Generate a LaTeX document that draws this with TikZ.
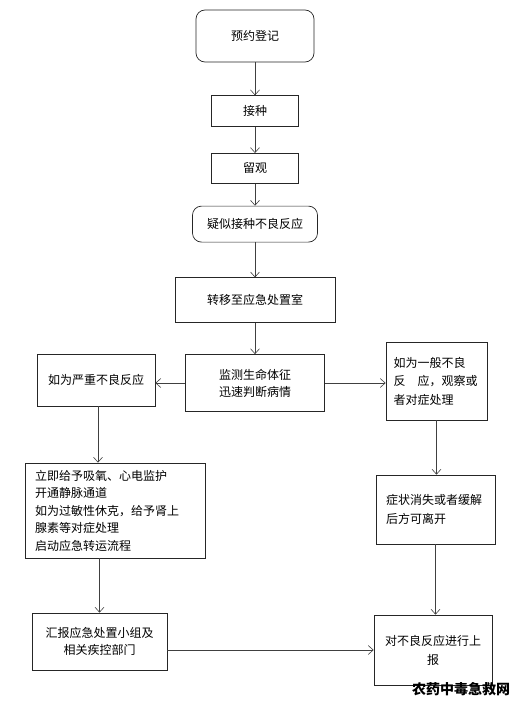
\documentclass[tikz,border=0pt]{standalone}
\usepackage{fontspec}
\newfontfamily\cjk{Noto Sans CJK SC}
\usetikzlibrary{arrows.meta, positioning}

\begin{document}
\begin{tikzpicture}[
    x=1pt, y=-1pt, >={Straight Barb[length=5pt, width=9pt]},
    box/.style={draw=black!85, line width=0.7pt, inner sep=0pt,
                font=\cjk\fontsize{12}{18}\selectfont, align=center},
    rbox/.style={box, rounded corners=9pt},
    flow/.style={->, draw=black!75, line width=0.6pt}
  ]
  \useasboundingbox (0,0) rectangle (515,701);

  % main column
  \node[rbox, minimum width=118pt, minimum height=52pt] (reg) at (255,36)
    {预约登记};
  \node[box, minimum width=87pt, minimum height=31pt, below=33pt of reg] (jz)
    {接种};
  \node[box, minimum width=87pt, minimum height=30pt, below=26pt of jz] (lg)
    {留观};
  \node[rbox, minimum width=125pt, minimum height=36pt, below=22pt of lg] (ys)
    {疑似接种不良反应};
  \node[box, minimum width=160pt, minimum height=45pt, below=35pt of ys] (zy)
    {转移至应急处置室};
  \node[box, minimum width=139pt, minimum height=57pt, below=31pt of zy,
        font=\cjk\fontsize{12}{17}\selectfont] (jc)
    {监测生命体征\\迅速判断病情};

  % left column
  \node[box, minimum width=118pt, minimum height=52pt] (yz) at (96,380)
    {如为严重不良反应};
  \node[box, text width=160pt, inner xsep=10pt, minimum height=95pt,
        align=left, font=\cjk\fontsize{12}{17.5}\selectfont] (qj) at (115,510.5)
    {立即给予吸氧、心电监护\\开通静脉通道\\如为过敏性休克，给予肾上\\腺素等对症处理\\启动应急转运流程};
  \node[box, minimum width=135pt, minimum height=57pt,
        font=\cjk\fontsize{12}{17}\selectfont] (hb) at (99.5,641.5)
    {汇报应急处置小组及\\相关疾控部门};

  % right column
  \node[box, text width=86pt, inner xsep=7.5pt, minimum height=78pt,
        align=left, font=\cjk\fontsize{12}{18.5}\selectfont] (yb) at (436.5,381)
    {如为一般不良\\反　应，观察或\\者对症处理};
  \node[box, text width=99pt, inner xsep=10pt, minimum height=69pt,
        align=left, font=\cjk\fontsize{12}{19}\selectfont] (xs) at (435.5,509.5)
    {症状消失或者缓解\\后方可离开};
  \node[box, minimum width=118pt, minimum height=70pt,
        font=\cjk\fontsize{12}{19}\selectfont] (sb) at (433,650)
    {对不良反应进行上\\报};

  \draw[flow] (reg) -- (jz);
  \draw[flow] (jz) -- (lg);
  \draw[flow] (lg) -- (ys);
  \draw[flow] (ys) -- (zy);
  \draw[flow] (zy) -- (jc);
  \draw[flow] (jc.west) -- (jc.west -| yz.east);
  \draw[flow] (jc.east) -- (jc.east -| yb.west);
  \draw[flow] ([xshift=2pt]yz.south) -- ([xshift=2pt]yz.south |- qj.north);
  \draw[flow] (hb.north |- qj.south) -- (hb.north);
  \draw[flow] (yb.south) -- (yb.south |- xs.north);
  \draw[flow] (xs.south) -- (xs.south |- sb.north);
  \draw[flow] (sb.west -| hb.east) -- (sb.west);

  \node[font=\cjk\bfseries\fontsize{14}{14}\selectfont] (wm) at (461,689)
    {农药中毒急救网};
\end{tikzpicture}
\end{document}
